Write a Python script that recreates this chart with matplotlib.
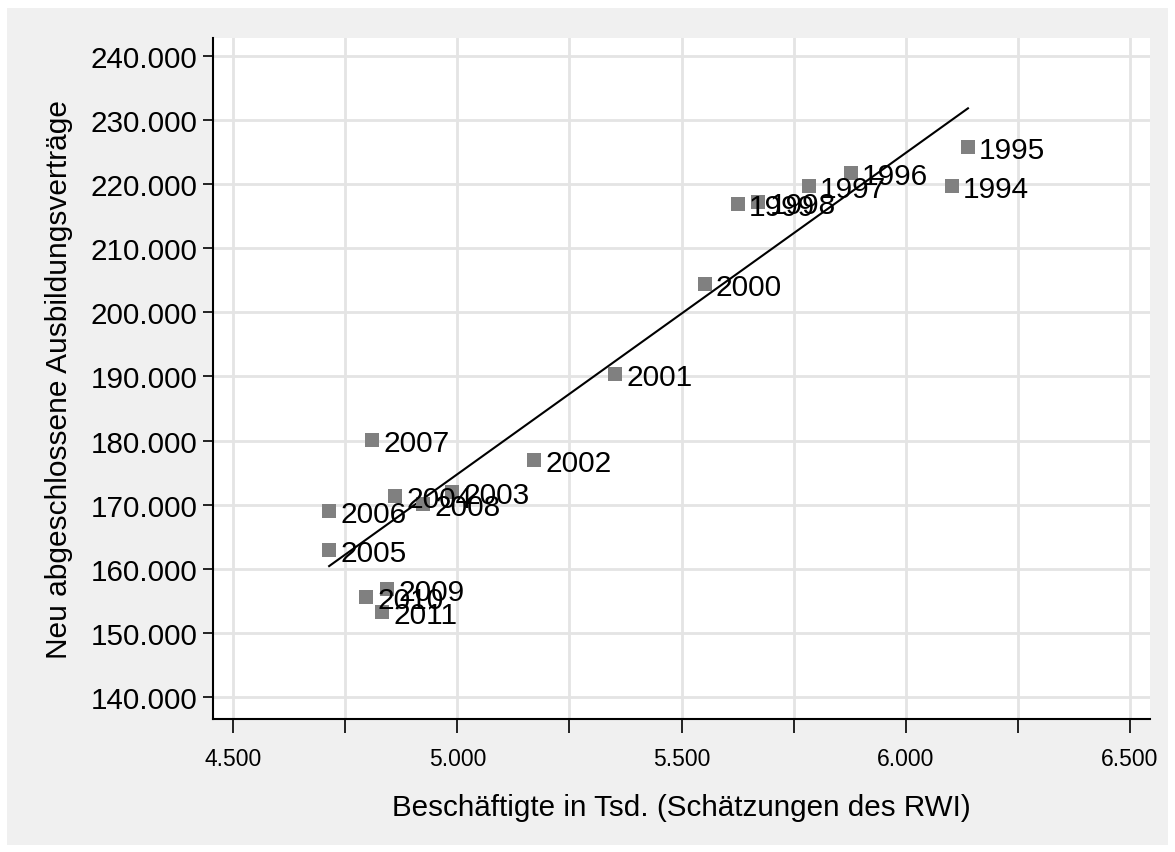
import matplotlib
matplotlib.use("Agg")
import matplotlib.pyplot as plt
import numpy as np
from matplotlib.patches import Rectangle
from matplotlib.ticker import FuncFormatter, MultipleLocator

plt.rcParams["font.family"] = ["Liberation Sans", "DejaVu Sans"]

years = [1994, 1995, 1996, 1997, 1998, 1999, 2000, 2001, 2002, 2003,
         2004, 2005, 2006, 2007, 2008, 2009, 2010, 2011]
employed = [6103, 6139, 5878, 5784, 5671, 5626, 5552, 5352, 5171, 4988,
            4861, 4714, 4714, 4810, 4924, 4843, 4797, 4832]
contracts = [219700, 225800, 221750, 219700, 217200, 216900, 204400, 190400,
             177000, 172000, 171400, 162900, 169000, 180100, 170100, 156800,
             155600, 153300]


def de_thousands(v, pos):
    return f"{v:,.0f}".replace(",", ".")


fig = plt.figure(figsize=(11.75, 8.53), dpi=100, facecolor="white")
fig.patches.append(Rectangle((7 / 1175, 7 / 853), 1161 / 1175, 837 / 853,
                             transform=fig.transFigure, facecolor="#f0f0f0",
                             edgecolor="none", zorder=-10))
ax = fig.add_axes([0.1813, 0.1559, 0.9787 - 0.1813, 0.9543 - 0.1559])
ax.set_facecolor("white")

ax.set_xlim(4455, 6545)
ax.set_ylim(136570, 242800)
ax.xaxis.set_major_locator(MultipleLocator(500))
ax.xaxis.set_minor_locator(MultipleLocator(250))
ax.yaxis.set_major_locator(MultipleLocator(10000))
ax.xaxis.set_major_formatter(FuncFormatter(de_thousands))
ax.yaxis.set_major_formatter(FuncFormatter(de_thousands))
ax.grid(True, which="both", color="#e4e4e4", linewidth=2)
ax.set_axisbelow(True)

for s in ("top", "right"):
    ax.spines[s].set_visible(False)
for s in ("left", "bottom"):
    ax.spines[s].set_linewidth(1.5)

ax.tick_params(axis="y", labelsize=21.3, length=7, width=1.2, pad=4)
ax.tick_params(axis="x", which="major", labelsize=16.5, length=10, width=1.2, pad=10)
ax.tick_params(axis="x", which="minor", length=10, width=1.2)

# linear fit over observed range
slope, icpt = np.polyfit(employed, contracts, 1)
xs = np.array([min(employed), max(employed)])
ax.plot(xs, slope * xs + icpt, color="black", linewidth=1.5, zorder=3)

ax.scatter(employed, contracts, marker="s", s=110, color="#808080", zorder=4,
           linewidths=0)
for yr, x, y in zip(years, employed, contracts):
    ax.annotate(str(yr), (x, y), xytext=(8, -2), textcoords="offset points",
                fontsize=21.5, va="center", ha="left", zorder=5)

ax.set_xlabel("Beschäftigte in Tsd. (Schätzungen des RWI)", fontsize=21.3,
              labelpad=17)
ax.set_ylabel("Neu abgeschlossene Ausbildungsverträge", fontsize=21.5,
              labelpad=13)

fig.savefig("out.png", dpi=100, facecolor=fig.get_facecolor())
